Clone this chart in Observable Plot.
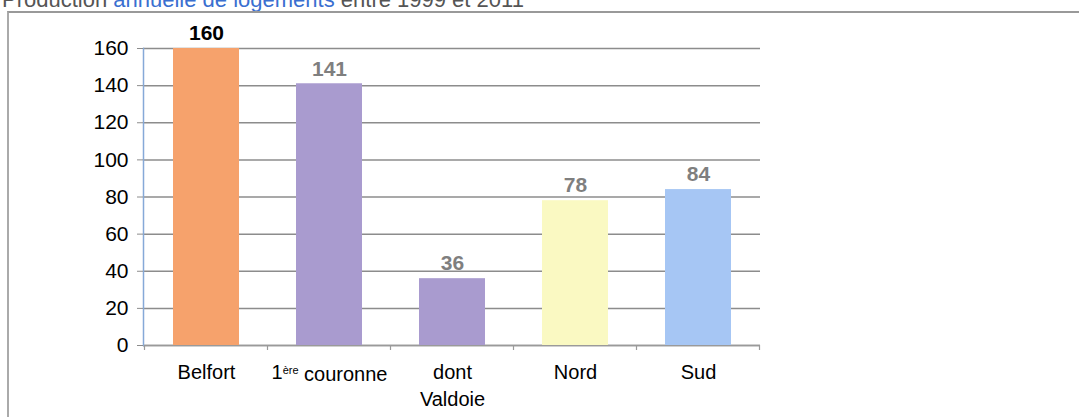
<!DOCTYPE html>
<html>
<head>
<meta charset="utf-8">
<script src="https://cdn.jsdelivr.net/npm/d3@7"></script>
<script src="https://cdn.jsdelivr.net/npm/@observablehq/plot@0.6"></script>
<style>
  html, body { margin: 0; padding: 0; background: #fff; overflow: hidden; }
  body { width: 1079px; height: 417px; position: relative; font-family: "Liberation Sans", Arial, sans-serif; }
  #title { position: absolute; left: 2px; top: -13px; font-size: 22px; color: #555; white-space: nowrap; }
  #title .hl { color: #3a6fd0; }
  #frame { position: absolute; left: 7px; top: 11px; width: 1072px; height: 406px;
           border-left: 2px solid #aaa; border-top: 2px solid #999; box-sizing: border-box; }
  #chart { position: absolute; left: 0; top: 0; }
</style>
</head>
<body>
<div id="title">Production <span class="hl">annuelle de logements</span> entre 1999 et 2011</div>
<div id="frame"><div id="chart"></div></div>
<script>
const categories = ["Belfort", "1ère couronne", "dont\nValdoie", "Nord", "Sud"];
const values = [160, 141, 36, 78, 84];
const colors = ["#F6A26C", "#A99BCF", "#A99BCF", "#FAF9C2", "#A6C6F4"];
const labelColors = ["#000000", "#7f7f7f", "#7f7f7f", "#7f7f7f", "#7f7f7f"];
const yTicks = [0, 20, 40, 60, 80, 100, 120, 140, 160];

const data = categories.map((c, i) => ({cat: c, value: values[i], color: colors[i], lc: labelColors[i]}));

const plot = Plot.plot({
  width: 1070,
  height: 404,
  marginLeft: 134,
  marginRight: 319,
  marginTop: 35,
  marginBottom: 72,
  style: {fontFamily: "'Liberation Sans', Arial, sans-serif", fontSize: "20px", color: "#000", background: "transparent"},
  x: {domain: categories, paddingInner: 0.465, paddingOuter: 0.2325, label: null},
  y: {domain: [0, 160], label: null},
  marks: [
    Plot.gridY(yTicks, {stroke: "#8c8c8c", strokeOpacity: 1, strokeWidth: 1.5}),
    Plot.ruleY([0], {stroke: "#9a9a9a", strokeWidth: 1.5}),
    Plot.barY(data, {x: "cat", y: "value", fill: "color"}),
    Plot.text(data, {x: "cat", y: "value", text: d => String(d.value), fill: "lc", dy: -15,
      fontWeight: "bold", fontSize: 21}),
    Plot.frame({anchor: "left", stroke: "#86a9d8", strokeWidth: 1.5}),
    Plot.axisY(yTicks, {tickSize: 6, tickPadding: 9, stroke: "#8c8c8c", fontSize: 21, fill: "#000", label: null}),
    Plot.axisX({tickSize: 0, tickPadding: 14, fontSize: 20, fill: "#000", lineHeight: 1.35, label: null})
  ]
});

document.getElementById("chart").appendChild(plot);

// Superscript for "1ère"
d3.select(plot).selectAll("text").each(function() {
  const t = d3.select(this);
  if (t.text() === "1ère couronne") {
    t.text(null);
    t.append("tspan").text("1");
    t.append("tspan").attr("font-size", 11).attr("dy", "-0.45em").text("ère");
    t.append("tspan").attr("dy", "0.35em").text(" couronne");
  }
});

// small tick marks on the x-axis line between categories (from the band scale)
const xs = plot.scale("x");
const ys = plot.scale("y");
const step = xs.step;
const y0 = ys.apply(0);
const g = d3.select(plot).append("g").attr("stroke", "#9a9a9a").attr("stroke-width", 1.2);
categories.forEach((c, i) => {
  const left = xs.apply(c) + xs.bandwidth / 2 - step / 2;
  g.append("line").attr("x1", left).attr("x2", left).attr("y1", y0).attr("y2", y0 + 5);
  if (i === categories.length - 1) {
    const right = left + step;
    g.append("line").attr("x1", right).attr("x2", right).attr("y1", y0).attr("y2", y0 + 5);
  }
});
</script>
</body>
</html>
